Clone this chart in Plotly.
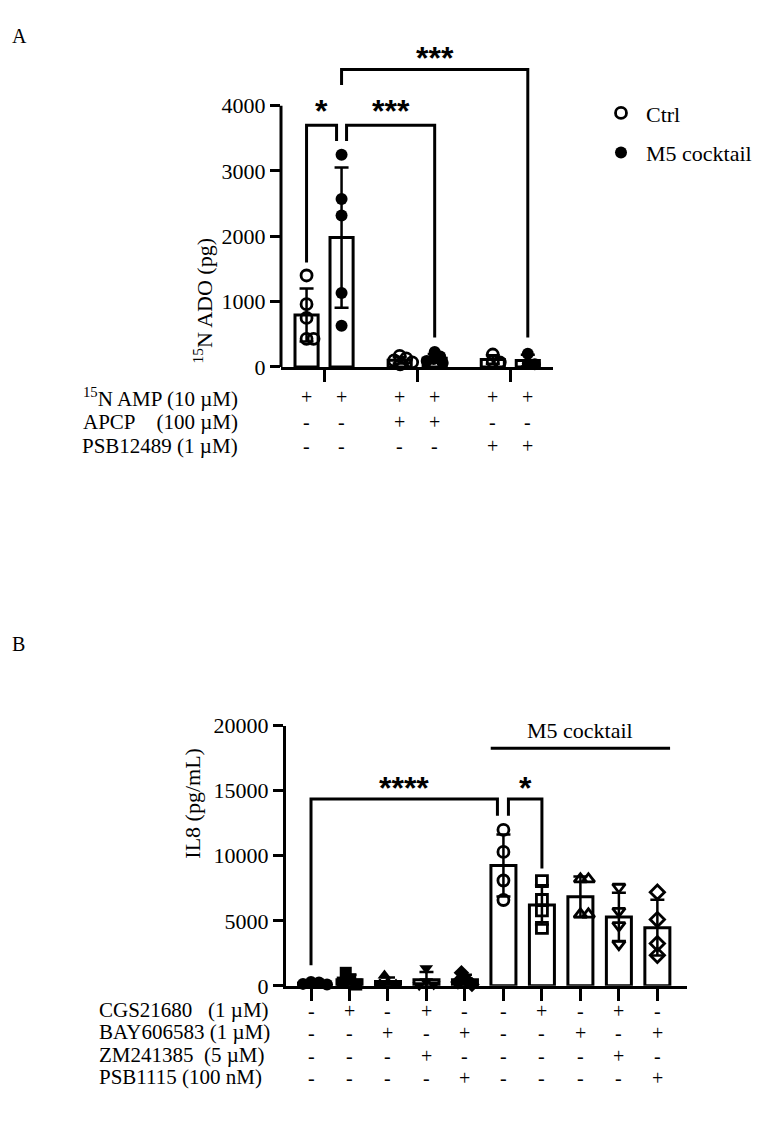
import numpy as np
import plotly.graph_objects as go

W, H = 757, 1123
FONT = "Liberation Serif"
STAR_FONT = "Liberation Sans"

# ---------------- Panel A data ----------------
a_groups = ["AMP", "AMP + APCP", "AMP + PSB12489"]
a_ctrl = [[1400, 960, 750, 430, 430],
          [170, 130, 100, 70, 40],
          [190, 80, 70]]
a_m5 = [[3250, 2570, 2320, 1130, 630],
        [230, 160, 120, 90, 60],
        [200, 50, 40]]
a_yticks = [0, 1000, 2000, 3000, 4000]
a_row_labels = ["<sup>15</sup>N AMP (10 \u00b5M)",
                "APCP\u00a0\u00a0\u00a0\u00a0(100 \u00b5M)",
                "PSB12489 (1 \u00b5M)"]
a_table = [["+", "+", "+", "+", "+", "+"],
           ["-", "-", "+", "+", "-", "-"],
           ["-", "-", "-", "-", "+", "+"]]
a_legend = ["Ctrl", "M5 cocktail"]
# significance: (left bar, right bar, left leg end, top, right leg end, label)
a_sig = [(0, 1, 1600, 3700, 3460, "*"),
         (1, 3, 3460, 3700, 450, "***"),
         (1, 5, 4315, 4555, 450, "***")]

# ---------------- Panel B data ----------------
b_points = [[300, 250, 150, 100],
            [1000, 500, 250, 100],
            [800, 250, 150, 100],
            [1350, 350, 100, 50],
            [1000, 500, 300, 100],
            [12000, 10300, 8100, 6600],
            [8050, 6600, 5800, 4450],
            [8200, 8200, 5500, 5500],
            [7600, 5750, 4650, 3200],
            [7200, 5100, 3250, 2350]]
b_symbols = ["circle", "square", "triangle-up", "triangle-down", "diamond",
             "circle-open", "square-open", "triangle-up-open",
             "triangle-down-open", "diamond-open"]
b_yticks = [0, 5000, 10000, 15000, 20000]
b_row_labels = ["CGS21680\u00a0\u00a0\u00a0(1 \u00b5M)",
                "BAY606583 (1 \u00b5M)",
                "ZM241385\u00a0\u00a0(5 \u00b5M)",
                "PSB1115 (100 nM)"]
b_table = [["-", "+", "-", "+", "-", "-", "+", "-", "+", "-"],
           ["-", "-", "+", "-", "+", "-", "-", "+", "-", "+"],
           ["-", "-", "-", "+", "-", "-", "-", "-", "+", "-"],
           ["-", "-", "-", "-", "+", "-", "-", "-", "-", "+"]]
b_sig = [(0, 5, 1580, 14360, 13080, "****"),
         (5, 6, 13080, 14360, 9020, "*")]
b_group_label = "M5 cocktail"
b_group_span = (5, 9, 18270)

# ---------------- layout geometry (pixels) ----------------
A_X0, A_X1, A_Y0, A_Y1 = 281, 553, 29, 363
A_XR = [-0.73, 7.04]
A_YR = [0, 5000]
A_STEP = 2.66
B_X0, B_X1, B_Y0, B_Y1 = 286, 687, 730, 996
B_XR = [-0.65, 9.77]
B_YR = [0, 20000]

a_px_x = (A_X1 - A_X0) / (A_XR[1] - A_XR[0])
a_px_y = (A_Y1 - A_Y0) / (A_YR[1] - A_YR[0])
b_px_x = (B_X1 - B_X0) / (B_XR[1] - B_XR[0])
b_px_y = (B_Y1 - B_Y0) / (B_YR[1] - B_YR[0])


def swarm(values, xc, sx, sy, d):
    vals = np.asarray(values, float)
    order = np.argsort(-vals, kind="stable")
    cands = sorted(np.arange(-4 * d, 4 * d + 0.01, 0.5), key=lambda t: (abs(t), -t))
    placed = []
    off = np.zeros(len(vals))
    for i in order:
        yp = vals[i] * sy
        for c in cands:
            if all((c - p) ** 2 + (yp - q) ** 2 >= d ** 2 for p, q in placed):
                break
        placed.append((c, yp))
        off[i] = c
    if len(off) > 1 and np.ptp(off) > 0 and abs(off.max() + off.min()) < d:
        off -= (off.max() + off.min()) / 2
    return xc + off / sx


fig = go.Figure()

# ---------------- Panel A traces ----------------
a_vals, a_pos, a_kind = [], [], []
for g in range(len(a_groups)):
    for k, series in enumerate((a_ctrl, a_m5)):
        a_vals.append(series[g])
        a_pos.append(g * A_STEP + k)
        a_kind.append(k)

a_mean = [float(np.mean(v)) for v in a_vals]
a_sd = [float(np.std(v, ddof=1)) for v in a_vals]

fig.add_trace(go.Bar(x=a_pos, y=a_mean, width=0.66, xaxis="x", yaxis="y",
                     marker=dict(color="white", line=dict(color="black", width=3)),
                     error_y=dict(type="data", array=a_sd, color="black", thickness=2.5, width=7),
                     showlegend=False, hoverinfo="skip"))
shown = set()
for v, xc, k in zip(a_vals, a_pos, a_kind):
    xs = swarm(v, xc, a_px_x, a_px_y, 7)
    if k == 0:
        mk = dict(symbol="circle-open", size=11, color="black", line=dict(width=2.8))
    else:
        mk = dict(symbol="circle", size=12, color="black")
    fig.add_trace(go.Scatter(x=xs, y=v, mode="markers", marker=mk, xaxis="x", yaxis="y",
                             cliponaxis=False, name=a_legend[k], legendgroup=a_legend[k],
                             showlegend=(k not in shown), hoverinfo="skip"))
    shown.add(k)

# ---------------- Panel B traces ----------------
b_pos = list(range(len(b_points)))
b_mean = [float(np.mean(v)) for v in b_points]
b_sd = [float(np.std(v, ddof=1)) for v in b_points]
fig.add_trace(go.Bar(x=b_pos, y=b_mean, width=0.65, xaxis="x2", yaxis="y2",
                     marker=dict(color="white", line=dict(color="black", width=3)),
                     error_y=dict(type="data", array=b_sd, color="black", thickness=2.5, width=7),
                     showlegend=False, hoverinfo="skip"))
for v, xc, sym in zip(b_points, b_pos, b_symbols):
    xs = swarm(v, xc, b_px_x, b_px_y, 8)
    if sym.endswith("open"):
        mk = dict(symbol=sym, size=11, color="black", line=dict(width=2.8))
    else:
        mk = dict(symbol=sym, size=12, color="black")
    fig.add_trace(go.Scatter(x=xs, y=v, mode="markers", marker=mk, xaxis="x2", yaxis="y2",
                             cliponaxis=False, showlegend=False, hoverinfo="skip"))

shapes = []
annotations = []

# y-axis line of panel A only up to the last tick
shapes.append(dict(type="line", xref="x domain", yref="y", x0=0, x1=0, y0=0, y1=a_yticks[-1],
                   line=dict(color="black", width=3)))


def bracket(xa, ya, pos, sx, item, shift_l, shift_r, ann_y):
    l, r, yl, yt, yr, lab = item
    x0 = pos[l] + shift_l / sx
    x1 = pos[r] + shift_r / sx
    shapes.append(dict(type="path", xref=xa, yref=ya,
                       path=f"M {x0},{yl} L {x0},{yt} L {x1},{yt} L {x1},{yr}",
                       line=dict(color="black", width=3)))
    annotations.append(dict(x=(x0 + x1) / 2, y=ann_y, xref=xa, yref=ya, text=f"<b>{lab}</b>",
                            showarrow=False, yanchor="middle", borderpad=0,
                            font=dict(family=STAR_FONT, size=32, color="black")))


bracket("x", "y", a_pos, a_px_x, a_sig[0], 0, -5, 3920)
bracket("x", "y", a_pos, a_px_x, a_sig[1], 5, 0, 3920)
bracket("x", "y", a_pos, a_px_x, a_sig[2], 0, 0, 4725)
bracket("x2", "y2", b_pos, b_px_x, b_sig[0], 0, -6, 15200)
bracket("x2", "y2", b_pos, b_px_x, b_sig[1], 5, 0, 15200)

# M5 cocktail group line in B
gl, gr, gy = b_group_span
shapes.append(dict(type="line", xref="x2", yref="y2", x0=b_pos[gl] - 0.33, x1=b_pos[gr] + 0.33,
                   y0=gy, y1=gy, line=dict(color="black", width=3)))
annotations.append(dict(x=(b_pos[gl] + b_pos[gr]) / 2, y=19620, xref="x2", yref="y2",
                        text=b_group_label, showarrow=False, borderpad=0,
                        font=dict(family=FONT, size=22, color="black")))


def py(p):
    return 1 - p / H


def px(p):
    return p / W


TF = 20
a_row_y = [394, 419, 444]
for r, (lab, row) in enumerate(zip(a_row_labels, a_table)):
    annotations.append(dict(x=px(239), y=py(a_row_y[r]), xref="paper", yref="paper", text=lab,
                            showarrow=False, xanchor="right", borderpad=0,
                            font=dict(family=FONT, size=TF + 1, color="black")))
    for c, s in enumerate(row):
        annotations.append(dict(x=a_pos[c], y=py(a_row_y[r]), xref="x", yref="paper", text=s,
                                showarrow=False, borderpad=0,
                                font=dict(family=FONT, size=TF, color="black")))

b_row_y = [1034, 1057, 1080, 1103]
for r, (lab, row) in enumerate(zip(b_row_labels, b_table)):
    annotations.append(dict(x=px(98), y=py(b_row_y[r]), xref="paper", yref="paper", text=lab,
                            showarrow=False, xanchor="left", borderpad=0,
                            font=dict(family=FONT, size=TF + 1, color="black")))
    for c, s in enumerate(row):
        annotations.append(dict(x=b_pos[c], y=py(b_row_y[r]), xref="x2", yref="paper", text=s,
                                showarrow=False, borderpad=0,
                                font=dict(family=FONT, size=TF, color="black")))

# axis titles and panel letters
annotations.append(dict(x=px(187), y=py(230), xref="paper", yref="paper",
                        text="<sup>15</sup>N ADO (pg)", textangle=-90, showarrow=False,
                        font=dict(family=FONT, size=22, color="black")))
annotations.append(dict(x=px(178), y=py(868), xref="paper", yref="paper",
                        text="IL8 (pg/mL)", textangle=-90, showarrow=False,
                        font=dict(family=FONT, size=22, color="black")))
annotations.append(dict(x=px(10), y=py(11), xref="paper", yref="paper", text="A",
                        showarrow=False, font=dict(family=FONT, size=20, color="black")))
annotations.append(dict(x=px(10), y=py(646), xref="paper", yref="paper", text="B",
                        showarrow=False, font=dict(family=FONT, size=20, color="black")))

axis_common = dict(showgrid=False, zeroline=False, color="black",
                   tickfont=dict(family=FONT, size=22, color="black"))

fig.update_layout(
    width=W, height=H, margin=dict(l=0, r=0, t=0, b=0),
    paper_bgcolor="white", plot_bgcolor="white",
    font=dict(family=FONT, size=22, color="black"),
    xaxis=dict(domain=[px(A_X0), px(A_X1)], range=A_XR, anchor="y",
               showline=True, linewidth=3, linecolor="black",
               tickmode="array", tickvals=[g * A_STEP + 0.5 for g in range(len(a_groups))],
               ticks="outside", ticklen=12, tickwidth=3, tickcolor="black",
               showticklabels=False, **axis_common),
    yaxis=dict(domain=[py(A_Y1), py(A_Y0)], range=A_YR, anchor="x",
               showline=False, tickmode="array", tickvals=a_yticks,
               ticktext=[str(t) for t in a_yticks],
               ticks="outside", ticklen=10, tickwidth=3, tickcolor="black", **axis_common),
    xaxis2=dict(domain=[px(B_X0), px(B_X1)], range=B_XR, anchor="y2",
                showline=True, linewidth=3, linecolor="black",
                tickmode="array", tickvals=b_pos,
                ticks="outside", ticklen=12, tickwidth=3, tickcolor="black",
                showticklabels=False, **axis_common),
    yaxis2=dict(domain=[py(B_Y1), py(B_Y0)], range=B_YR, anchor="x2",
                showline=True, linewidth=3, linecolor="black",
                tickmode="array", tickvals=b_yticks,
                ticktext=[str(t) for t in b_yticks],
                ticks="outside", ticklen=10, tickwidth=3, tickcolor="black", **axis_common),
    legend=dict(x=px(596), y=py(82), xanchor="left", yanchor="top",
                font=dict(family=FONT, size=22, color="black"), itemwidth=40,
                bgcolor="rgba(0,0,0,0)", traceorder="grouped", tracegroupgap=8),
    shapes=shapes, annotations=annotations,
)

fig.write_html("out.html")
